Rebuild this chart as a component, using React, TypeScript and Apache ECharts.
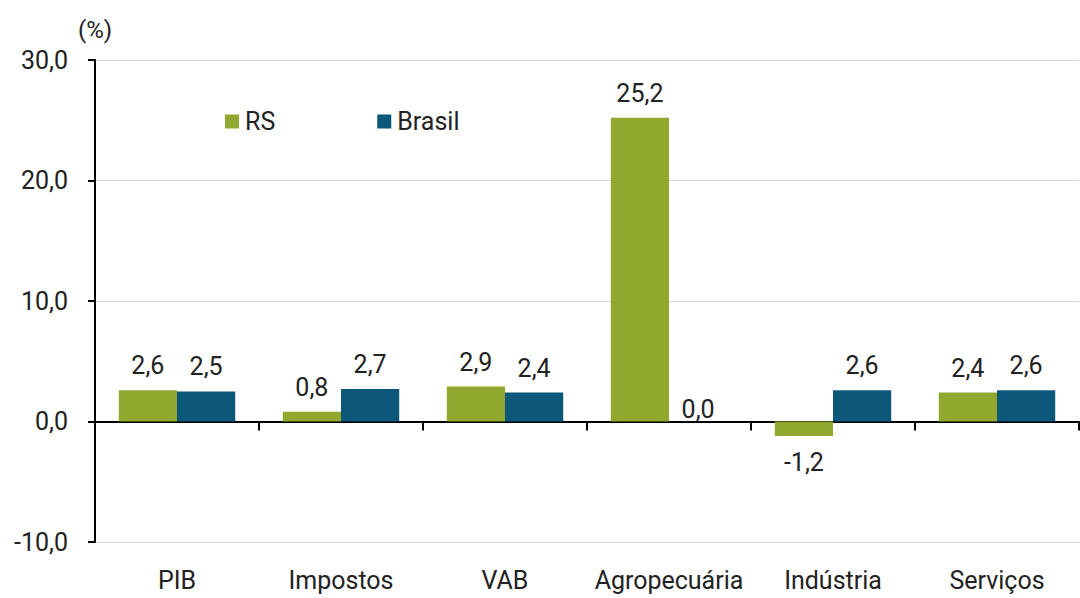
import React, { useEffect, useRef } from "react";
import * as echarts from "echarts";

const categories = ["PIB", "Impostos", "VAB", "Agropecuária", "Indústria", "Serviços"];
const rsValues = [2.6, 0.8, 2.9, 25.2, -1.2, 2.4];
const brasilValues = [2.5, 2.7, 2.4, 0.0, 2.6, 2.6];
const seriesNames = ["RS", "Brasil"];

const FONT = "Roboto";
const TXT = "#222222";

const fmt = (v: number) => v.toFixed(1).replace(".", ",");

function makeData(values: number[]) {
  return values.map((v) => {
    if (v < 0) {
      return { value: v, label: { position: "bottom", distance: 14 } };
    }
    if (v === 0) {
      return { value: v, label: { position: "top", distance: 0 } };
    }
    return { value: v };
  });
}

export default function App() {
  const ref = useRef<HTMLDivElement>(null);
  useEffect(() => {
    if (!ref.current) return;
    const chart = echarts.init(ref.current, undefined, { renderer: "svg" });
    const labelCfg = {
      show: true,
      position: "top",
      distance: 12,
      color: TXT,
      fontFamily: FONT,
      fontSize: 25,
      formatter: (p: any) => fmt(p.value),
    };
    chart.setOption({
      animation: false,
      backgroundColor: "#ffffff",
      textStyle: { fontFamily: FONT },
      legend: {
        left: 220,
        top: 104,
        itemWidth: 14,
        itemHeight: 14,
        itemGap: 102,
        icon: "rect",
        textStyle: { fontFamily: FONT, fontSize: 25, color: TXT, padding: [0, 0, 0, 1] },
        data: seriesNames,
      },
      grid: { left: 95, right: 1, top: 60, bottom: 56, containLabel: false },
      xAxis: [
        {
          type: "category",
          data: categories,
          axisLine: { onZero: true, lineStyle: { color: "#000", width: 2 } },
          axisTick: { show: true, length: 9, lineStyle: { color: "#000", width: 2 } },
          axisLabel: { show: false },
        },
        {
          type: "category",
          data: categories,
          position: "bottom",
          axisLine: { show: false, onZero: false },
          axisTick: { show: false },
          axisLabel: { show: true, interval: 0, margin: 26, color: TXT, fontFamily: FONT, fontSize: 25 },
        },
      ],
      yAxis: {
        type: "value",
        min: -10,
        max: 30,
        interval: 10,
        name: "(%)",
        nameLocation: "end",
        nameGap: 18,
        nameTextStyle: { color: TXT, fontFamily: FONT, fontSize: 24, align: "center" },
        axisLine: { show: true, lineStyle: { color: "#000", width: 2 } },
        axisTick: { show: true, length: 7, lineStyle: { color: "#000", width: 2 } },
        axisLabel: {
          margin: 27,
          color: TXT,
          fontFamily: FONT,
          fontSize: 25,
          formatter: (v: number) => fmt(v),
        },
        splitLine: { show: true, lineStyle: { color: "#d9d9d9", width: 1 } },
      },
      series: [
        {
          name: seriesNames[0],
          type: "bar",
          xAxisIndex: 0,
          data: makeData(rsValues),
          itemStyle: { color: "#8fa82d" },
          barGap: "0%",
          barCategoryGap: "29%",
          label: labelCfg,
        },
        {
          name: seriesNames[1],
          type: "bar",
          xAxisIndex: 0,
          data: makeData(brasilValues),
          itemStyle: { color: "#0b587b" },
          barGap: "0%",
          barCategoryGap: "29%",
          label: labelCfg,
        },
      ],
    });
    return () => chart.dispose();
  }, []);
  return (
    <div
      ref={ref}
      style={{ position: "absolute", left: 0, top: 0, width: 1080, height: 598 }}
    />
  );
}
